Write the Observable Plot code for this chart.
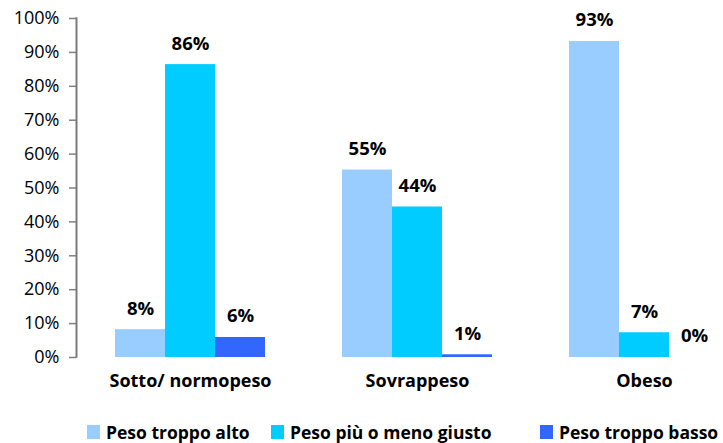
<!DOCTYPE html>
<html><head><meta charset="utf-8">
<script src="https://cdn.jsdelivr.net/npm/d3@7"></script>
<script src="https://cdn.jsdelivr.net/npm/@observablehq/plot@0.6"></script>
<style>
body{margin:0;background:#fff;font-family:"Open Sans",sans-serif;}
#legend{height:33px;font-weight:bold;font-size:17.5px;color:#000;position:relative;}
.item{position:absolute;display:flex;align-items:center;top:10px;white-space:nowrap}
.sw{width:13px;height:14px;margin-right:6px}
</style></head>
<body>
<div id="chart"></div>
<div id="legend"></div>
<script>
const categories = ["Sotto/ normopeso", "Sovrappeso", "Obeso"];
const series = ["Peso troppo alto", "Peso più o meno giusto", "Peso troppo basso"];
const colors = ["#99CCFF", "#00CCFF", "#3366FF"];
const altoValues = [8.2, 55.3, 93.2];
const giustoValues = [86.4, 44.4, 7.3];
const bassoValues = [5.9, 0.8, 0];
const yTicks = [0, 10, 20, 30, 40, 50, 60, 70, 80, 90, 100];

const seriesValues = [altoValues, giustoValues, bassoValues];
const font = "'Open Sans', sans-serif";
// each series occupies one third of the category band
const thirds = [{l: 0, r: 100, dx: -50}, {l: 50, r: 50, dx: 0}, {l: 100, r: 0, dx: 50}];

const marks = [];
series.forEach((s, j) => {
  const rows = categories.map((c, i) => ({cat: c, ser: s, v: seriesValues[j][i]}));
  marks.push(Plot.barY(rows, {x: "cat", y: "v", fill: "ser", insetLeft: thirds[j].l, insetRight: thirds[j].r}));
  marks.push(Plot.text(rows, {x: "cat", y: "v", text: d => Math.round(d.v) + "%", dx: thirds[j].dx, dy: -21,
    lineAnchor: "middle", fontWeight: "bold", fontSize: 18.5, fill: "#000"}));
});

const plot = Plot.plot({
  width: 723, height: 410,
  marginTop: 18, marginBottom: 53, marginLeft: 76, marginRight: 0,
  style: {fontFamily: font, background: "#fff", overflow: "visible"},
  x: {domain: categories, range: [76, 757], paddingInner: 0.34, paddingOuter: 0.17, label: null},
  y: {domain: [0, 100], label: null},
  color: {domain: series, range: colors},
  marks: [
    ...marks,
    Plot.axisY({ticks: yTicks, tickFormat: d => d + "%", tickSize: 7, tickPadding: 10, fontSize: 18, stroke: "#808080", strokeWidth: 1.5, fill: "#000", label: null}),
    Plot.axisX({tickSize: 0, tickPadding: 17, fontSize: 18, fontWeight: "bold", fill: "#000", label: null})
  ]
});
// vertical y-axis line as a thin filled rectangle, placed from the plot's own scales
const ys = plot.scale("y");
const xs = plot.scale("x");
d3.select(plot).append("rect")
  .attr("x", xs.range[0] - 0.5).attr("width", 2)
  .attr("y", ys.range[1] - 0.75).attr("height", ys.range[0] - ys.range[1] + 1.5)
  .attr("fill", "#7a7a7a").attr("stroke", "none");
document.getElementById("chart").appendChild(plot);

const lg = document.getElementById("legend");
const pos = [87, 271, 540];
series.forEach((s, i) => {
  const it = document.createElement("div");
  it.className = "item";
  it.style.left = pos[i] + "px";
  it.innerHTML = `<div class="sw" style="background:${colors[i]}"></div><span>${s}</span>`;
  lg.appendChild(it);
});
</script>
</body></html>
